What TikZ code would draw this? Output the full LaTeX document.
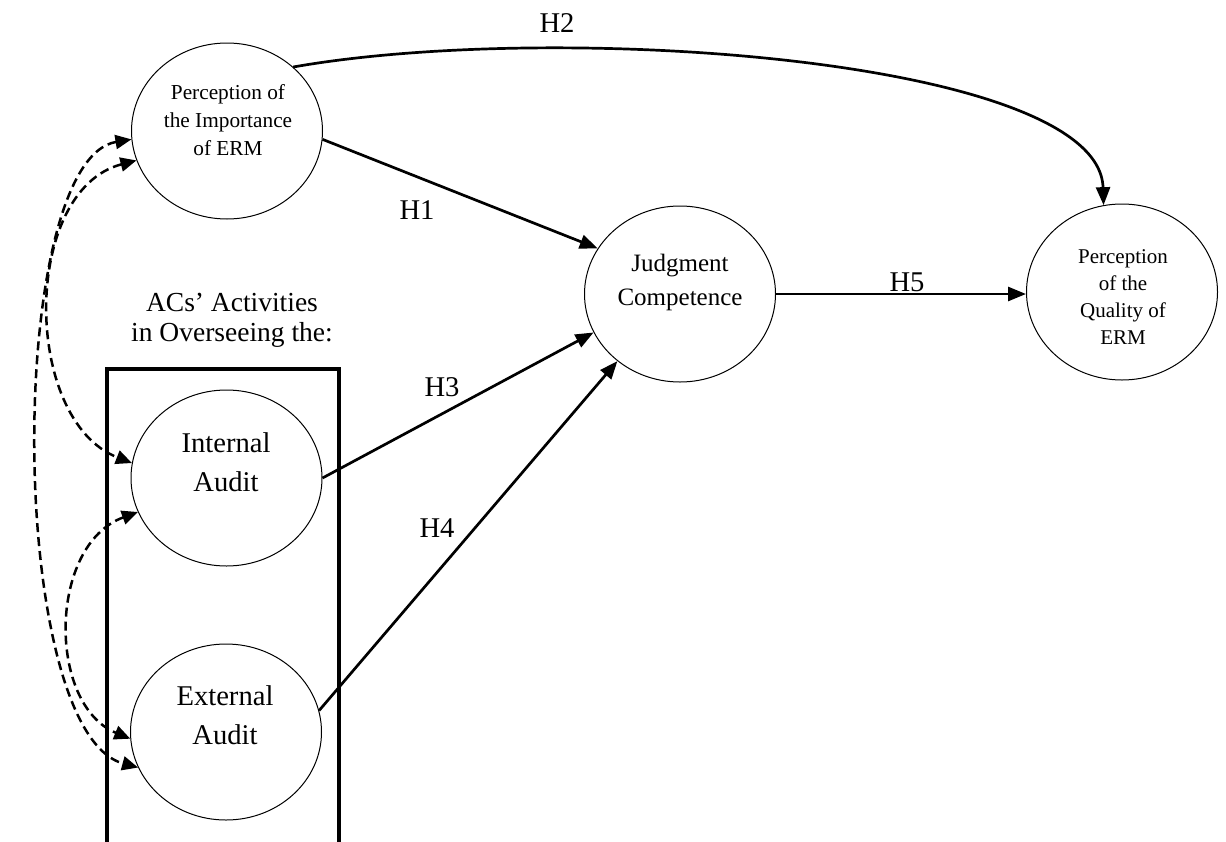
\documentclass[tikz,border=0pt]{standalone}
\usepackage{fontspec}
\setmainfont{Liberation Serif}
\usetikzlibrary{arrows.meta,shapes.geometric}

\tikzset{
  construct/.style={draw, line width=1pt, ellipse, minimum width=191pt,
    minimum height=176pt, inner sep=0pt},
  txt/.style={inner sep=0pt, align=center},
  hlab/.style={inner sep=0pt, font=\fontsize{28.6}{30}\selectfont},
  hyp/.style={line width=2.7pt, -{Triangle[length=18pt,width=14pt]}},
  corr/.style={line width=2.5pt, dash pattern=on 9pt off 5pt,
    {Triangle[length=16pt,width=14pt]}-{Triangle[length=16pt,width=14pt]}},
  frame/.style={line width=3.2pt, line join=miter},
}

\begin{document}
\begin{tikzpicture}[x=1pt,y=-1pt]
\useasboundingbox (0,0) rectangle (1226,841);

% latent constructs
\node[construct] (imp)  at (227,131)   {};
\node[construct] (jc)   at (680,294)   {};
\node[construct] (qual) at (1122,292)  {};
\node[construct] (ia)   at (226.5,478) {};
\node[construct] (ea)   at (226,732)   {};

% construct names
\node[txt, font=\fontsize{21.3}{28}\selectfont] (imp-t) at (228,120.5)
  {Perception of\\the Importance\\of ERM};
\node[txt, font=\fontsize{25}{34}\selectfont] (jc-t) at (680,282)
  {Judgment\\Competence};
\node[txt, font=\fontsize{21}{27.3}\selectfont] (qual-t) at (1123,297)
  {Perception\\of the\\Quality of\\ERM};
\node[txt, font=\fontsize{28.6}{39}\selectfont] (ia-t) at (226,462)
  {Internal\\Audit};
\node[txt, font=\fontsize{28.6}{39}\selectfont] (ea-t) at (225,715.5)
  {External\\Audit};

% audit committee oversight group
\node[txt, font=\fontsize{27.5}{30}\selectfont] (grp) at (232,320.5)
  {ACs’ Activities\\in Overseeing the:};
\draw[frame] (107,843) -- (107,369) -- (339,369) -- (339,843);

% hypothesised paths
\draw[hyp] (imp.355) -- (jc.151);
\draw[hyp] (imp.44) .. controls +(267,-47) and +(-4,-146) .. (qual.102);
\draw[hyp] (ia.east) -- (jc.204);
\draw[hyp] (ea.13) -- (jc.227);
\draw[hyp] (jc.east) -- (jc.east -| qual.west);

\node[hlab] (h1) at (417,210) {H1};
\node[hlab] (h2) at (557,23)  {H2};
\node[hlab] (h3) at (442,387) {H3};
\node[hlab] (h4) at (437,528) {H4};
\node[hlab] (h5) at (907,282) {H5};

% correlations among the exogenous constructs
\draw[corr] (imp.185) .. controls +(-126,21) and +(-132,-36) .. (ea.202);
\draw[corr] (imp.198) .. controls +(-115,30) and +(-110,-43) .. (ia.171);
\draw[corr] (ia.201)  .. controls +(-90,33)  and +(-83,-34)  .. (ea.184);
\end{tikzpicture}
\end{document}
